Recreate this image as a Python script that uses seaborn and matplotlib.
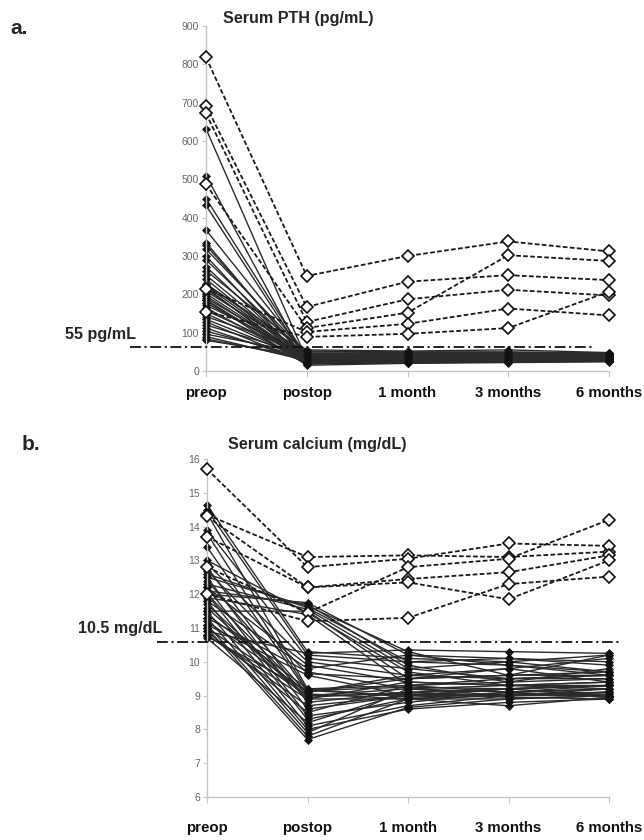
import numpy as np
import pandas as pd
import matplotlib
matplotlib.use("Agg")
import matplotlib.pyplot as plt
import seaborn as sns

# -------- data --------
timepoints = ["preop", "postop", "1 month", "3 months", "6 months"]

# serum PTH (pg/mL), cured patients (solid lines, filled diamonds)
pth_cured_preop = [632, 510, 450, 432, 368, 335, 328, 318, 300, 290, 272, 262, 250, 240, 228, 222, 218, 214, 208, 202,
                   196, 190, 184, 178, 172, 165, 158, 150, 142, 135, 128, 120, 112, 104, 96, 90, 84, 80, 225, 186]
pth_cured_postop = [30, 22, 35, 28, 40, 25, 32, 45, 18, 38, 27, 50, 33, 24, 42, 36, 20, 29, 47, 31,
                    26, 39, 15, 34, 44, 23, 37, 28, 52, 30, 21, 41, 25, 35, 46, 27, 32, 38, 55, 24]
pth_cured_1m = [35, 28, 40, 30, 38, 26, 33, 44, 22, 40, 30, 48, 34, 25, 42, 38, 21, 31, 45, 32,
                29, 36, 20, 35, 47, 26, 37, 30, 50, 33, 24, 39, 28, 36, 43, 30, 34, 40, 52, 27]
pth_cured_3m = [38, 30, 42, 33, 40, 28, 35, 46, 25, 41, 31, 47, 36, 27, 44, 39, 24, 33, 48, 34,
                30, 38, 22, 36, 45, 29, 40, 32, 50, 35, 26, 41, 30, 37, 44, 32, 35, 42, 55, 28]
pth_cured_6m = [36, 30, 40, 34, 38, 29, 35, 44, 26, 40, 32, 45, 35, 28, 42, 38, 25, 33, 46, 34,
                31, 37, 24, 36, 43, 30, 39, 33, 47, 35, 27, 40, 31, 36, 42, 33, 34, 41, 48, 29]

# serum PTH, persistent disease (dashed lines, open diamonds)
pth_persist_preop = [818, 692, 672, 487, 215, 155]
pth_persist_postop = [248, 167, 128, 112, 102, 89]
pth_persist_1m = [300, 233, 187, 152, 123, 97]
pth_persist_3m = [338, 250, 212, 302, 163, 112]
pth_persist_6m = [312, 237, 197, 287, 145, 207]

# serum calcium (mg/dL), cured patients
ca_cured_preop = [12.0, 12.1, 11.5, 12.6, 13.0, 12.5, 11.9, 12.3,
                  14.65, 14.5, 13.9, 12.9, 12.2, 11.8, 11.3, 11.1, 10.9, 12.7,
                  14.4, 13.8, 13.4, 12.4, 12.0, 11.7, 11.6, 11.4, 11.2, 11.0, 10.8, 10.75,
                  12.8, 12.5, 12.2, 12.0, 11.8, 11.5, 11.3, 11.1, 11.0, 10.9, 10.8, 10.7]
ca_cured_postop = [11.75, 11.7, 11.5, 11.6, 11.45, 11.65, 11.4, 11.55,
                   10.3, 10.2, 10.1, 10.0, 9.9, 9.8, 9.7, 9.6, 10.25, 9.65,
                   9.2, 9.15, 9.1, 9.05, 9.0, 8.95, 8.9, 9.2, 9.1, 9.0, 8.9, 9.15,
                   8.8, 8.6, 8.4, 8.3, 8.1, 8.0, 7.9, 7.8, 7.7, 8.5, 8.7, 8.2]
ca_cured_1m = [10.2, 9.9, 9.5, 10.0, 9.7, 10.3, 9.3, 9.8,
               10.1, 10.0, 9.8, 9.6, 9.4, 10.2, 9.2, 9.0, 10.35, 9.5,
               9.3, 9.0, 9.5, 8.9, 9.2, 9.1, 9.4, 8.95, 9.6, 9.05, 8.9, 9.25,
               9.1, 9.0, 8.8, 8.9, 8.7, 8.6, 9.2, 8.9, 8.65, 9.3, 9.0, 9.1]
ca_cured_3m = [9.9, 9.4, 9.8, 10.1, 9.3, 9.6, 9.1, 10.0,
               10.0, 9.9, 9.5, 9.8, 9.3, 10.1, 9.0, 9.2, 10.3, 9.6,
               9.4, 9.2, 9.6, 9.0, 9.1, 8.95, 9.3, 9.05, 9.5, 9.0, 8.7, 9.2,
               9.2, 9.0, 9.1, 8.9, 9.0, 8.8, 9.3, 9.1, 8.9, 9.5, 9.2, 9.0]
ca_cured_6m = [9.6, 9.8, 9.4, 10.0, 9.2, 10.2, 9.3, 9.7,
               10.2, 9.7, 9.5, 10.1, 9.3, 9.9, 9.1, 9.0, 10.25, 9.6,
               9.5, 9.3, 9.7, 9.0, 9.2, 8.9, 9.4, 9.1, 9.6, 9.05, 8.95, 9.3,
               9.3, 9.1, 8.95, 9.0, 9.2, 8.9, 9.4, 9.2, 9.0, 9.6, 9.3, 9.1]

# serum calcium, persistent disease
ca_persist_preop = [14.35, 15.7, 14.3, 13.7, 12.8, 12.0]
ca_persist_postop = [13.1, 12.8, 12.2, 12.2, 11.45, 11.2]
ca_persist_1m = [13.15, 13.05, 12.45, 12.35, 12.8, 11.3]
ca_persist_3m = [13.1, 13.5, 12.65, 11.85, 13.05, 12.3]
ca_persist_6m = [13.26, 13.43, 13.15, 13.0, 14.2, 12.52]

pth_cutoff = 62      # drawn level of the 55 pg/mL line
ca_cutoff = 10.6     # drawn level of the 10.5 mg/dL line


def to_long(cols):
    df = pd.DataFrame(dict(zip(timepoints, cols)))
    df["patient"] = np.arange(len(df))
    df = df.melt(id_vars="patient", var_name="time", value_name="value")
    df["x"] = df["time"].map({t: i for i, t in enumerate(timepoints)})
    return df


pth_cured = to_long([pth_cured_preop, pth_cured_postop, pth_cured_1m, pth_cured_3m, pth_cured_6m])
pth_persist = to_long([pth_persist_preop, pth_persist_postop, pth_persist_1m, pth_persist_3m, pth_persist_6m])
ca_cured = to_long([ca_cured_preop, ca_cured_postop, ca_cured_1m, ca_cured_3m, ca_cured_6m])
ca_persist = to_long([ca_persist_preop, ca_persist_postop, ca_persist_1m, ca_persist_3m, ca_persist_6m])

# -------- style --------
sns.set_theme(style="white")
plt.rcParams["font.family"] = ["Liberation Sans", "DejaVu Sans"]

W, H = 644, 840
fig = plt.figure(figsize=(W / 100, H / 100), dpi=100)
ax1 = fig.add_axes([206 / W, 1 - 371 / H, (609 - 206) / W, (371 - 26) / H])
ax2 = fig.add_axes([207 / W, 1 - 797 / H, (609 - 207) / W, (797 - 459) / H])


def draw(ax, cured, persist):
    sns.lineplot(data=cured, x="x", y="value", units="patient", estimator=None, ax=ax,
                 color="#2b2b2b", lw=1.0, marker="D", markersize=4.3,
                 markerfacecolor="#111111", markeredgecolor="#111111", markeredgewidth=0.5,
                 legend=False, clip_on=False, sort=False)
    sns.lineplot(data=persist, x="x", y="value", units="patient", estimator=None, ax=ax,
                 color="#1a1a1a", lw=1.3, linestyle=(0, (2.6, 1.3)), marker="D", markersize=6,
                 markerfacecolor="white", markeredgecolor="#111111", markeredgewidth=1.2,
                 legend=False, clip_on=False, sort=False, zorder=4)
    ax.set_xlim(0, 4)
    ax.set_xticks(range(len(timepoints)))
    ax.set_xticklabels(timepoints, fontsize=10.8, fontweight="bold", color="#111111")
    ax.set_xlabel("")
    ax.set_ylabel("")
    for s in ["top", "right"]:
        ax.spines[s].set_visible(False)
    for s in ["left", "bottom"]:
        ax.spines[s].set_color("#c4c4c4")
        ax.spines[s].set_linewidth(1.0)
    ax.tick_params(axis="y", left=True, length=3, width=0.8, color="#c4c4c4",
                   labelsize=7.5, labelcolor="#666666", pad=2)
    ax.tick_params(axis="x", bottom=True, length=4, width=0.8, color="#c4c4c4")


draw(ax1, pth_cured, pth_persist)
ax1.set_ylim(0, 900)
ax1.set_yticks(range(0, 901, 100))
ax1.tick_params(axis="x", pad=7)
ax1.plot([-0.75, 3.84], [pth_cutoff, pth_cutoff], color="#111111", lw=1.3,
         linestyle=(0, (6, 2, 1.2, 2)), clip_on=False, zorder=5)

draw(ax2, ca_cured, ca_persist)
ax2.set_ylim(6, 16)
ax2.set_yticks(range(6, 17))
ax2.tick_params(axis="x", pad=13)
ax2.plot([-0.5, 4.11], [ca_cutoff, ca_cutoff], color="#111111", lw=1.3,
         linestyle=(0, (6, 2, 1.2, 2)), clip_on=False, zorder=5)

# -------- texts --------
fig.text(10 / W, 1 - 29 / H, "a.", fontsize=15, fontweight="bold", va="center", ha="left")
fig.text(22 / W, 1 - 445 / H, "b.", fontsize=15, fontweight="bold", va="center", ha="left")
fig.text(223 / W, 1 - 19 / H, "Serum PTH (pg/mL)", fontsize=11.6, fontweight="bold", va="center", ha="left")
fig.text(228 / W, 1 - 444 / H, "Serum calcium (mg/dL)", fontsize=11.6, fontweight="bold", va="center", ha="left")
fig.text(65 / W, 1 - 335 / H, "55 pg/mL", fontsize=11.6, fontweight="bold", va="center", ha="left")
fig.text(78 / W, 1 - 628 / H, "10.5 mg/dL", fontsize=11.6, fontweight="bold", va="center", ha="left")

fig.savefig("out.png", dpi=100)
